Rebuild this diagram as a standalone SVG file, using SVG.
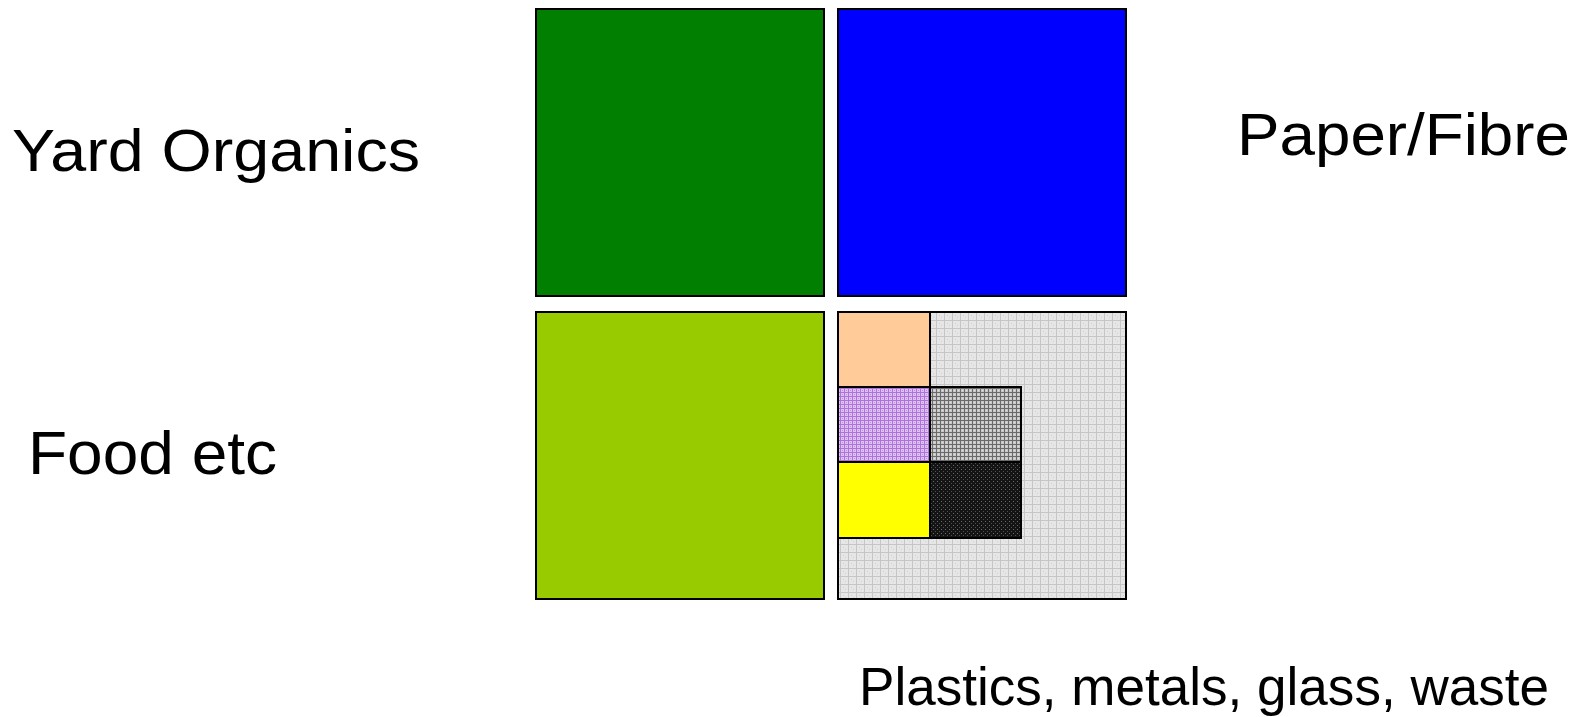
<svg xmlns="http://www.w3.org/2000/svg" width="1579" height="717" viewBox="0 0 1579 717">
<style>
.lbl{font-family:"Liberation Sans",Arial,sans-serif;fill:#000}
.box{stroke:#000;stroke-width:2}
</style>
<defs>
<pattern id="pGray" width="8" height="8" patternUnits="userSpaceOnUse">
<rect width="8" height="8" fill="#e6e6e6"/>
<rect x="0" y="0" width="8" height="1" fill="#c6c6c6"/>
<rect x="0" y="0" width="1" height="8" fill="#c6c6c6"/>
<rect x="3" y="3" width="1" height="1" fill="#cfcfcf"/>
<rect x="5" y="5" width="1" height="1" fill="#cfcfcf"/>
</pattern>
<pattern id="pPurple" width="4" height="4" patternUnits="userSpaceOnUse">
<rect width="4" height="4" fill="#dcc4ec"/>
<rect x="0" y="0" width="4" height="1" fill="#b070e0"/>
<rect x="0" y="0" width="1" height="4" fill="#b070e0"/>
<rect x="2" y="2" width="1" height="1" fill="#c090e0"/>
</pattern>
<pattern id="pMid" width="4" height="4" patternUnits="userSpaceOnUse">
<rect width="4" height="4" fill="#c8c8c8"/>
<rect x="0" y="0" width="4" height="1" fill="#6a6a6a"/>
<rect x="0" y="0" width="1" height="4" fill="#6a6a6a"/>
<rect x="2" y="2" width="1" height="1" fill="#e0e0e0"/>
</pattern>
<pattern id="pBlack" width="4" height="4" patternUnits="userSpaceOnUse">
<rect width="4" height="4" fill="#141414"/>
<rect x="1" y="1" width="1" height="1" fill="#6a6a6a"/>
<rect x="3" y="3" width="1" height="1" fill="#505050"/>
</pattern>
</defs>
<rect width="1579" height="717" fill="#fff"/>
<g id="yard-organics">
<rect class="box" x="536" y="9" width="288" height="287" fill="#007f00"/>
</g>
<g id="paper-fibre">
<rect class="box" x="838" y="9" width="288" height="287" fill="#0000ff"/>
</g>
<g id="food-etc">
<rect class="box" x="536" y="312" width="288" height="287" fill="#99cc00"/>
</g>
<g id="plastics-metals-glass-waste">
<rect class="box" x="838" y="312" width="288" height="287" fill="url(#pGray)"/>
<rect class="box" x="838" y="312" width="92" height="75" fill="#ffcc99"/>
<rect class="box" x="838" y="387" width="92" height="75" fill="url(#pPurple)"/>
<rect class="box" x="930" y="387" width="91" height="75" fill="url(#pMid)"/>
<rect class="box" x="838" y="462" width="92" height="76" fill="#ffff00"/>
<rect class="box" x="930" y="462" width="91" height="76" fill="url(#pBlack)"/>
</g>
<g id="labels">
<text class="lbl" x="12" y="171" font-size="59" textLength="408" lengthAdjust="spacingAndGlyphs">Yard Organics</text>
<text class="lbl" x="1237" y="155" font-size="59" textLength="333" lengthAdjust="spacingAndGlyphs">Paper/Fibre</text>
<text class="lbl" x="28" y="474" font-size="61" textLength="249" lengthAdjust="spacingAndGlyphs">Food etc</text>
<text class="lbl" x="859" y="705" font-size="53" textLength="690" lengthAdjust="spacingAndGlyphs">Plastics, metals, glass, waste</text>
</g>
<g id="connectors"/>
</svg>
